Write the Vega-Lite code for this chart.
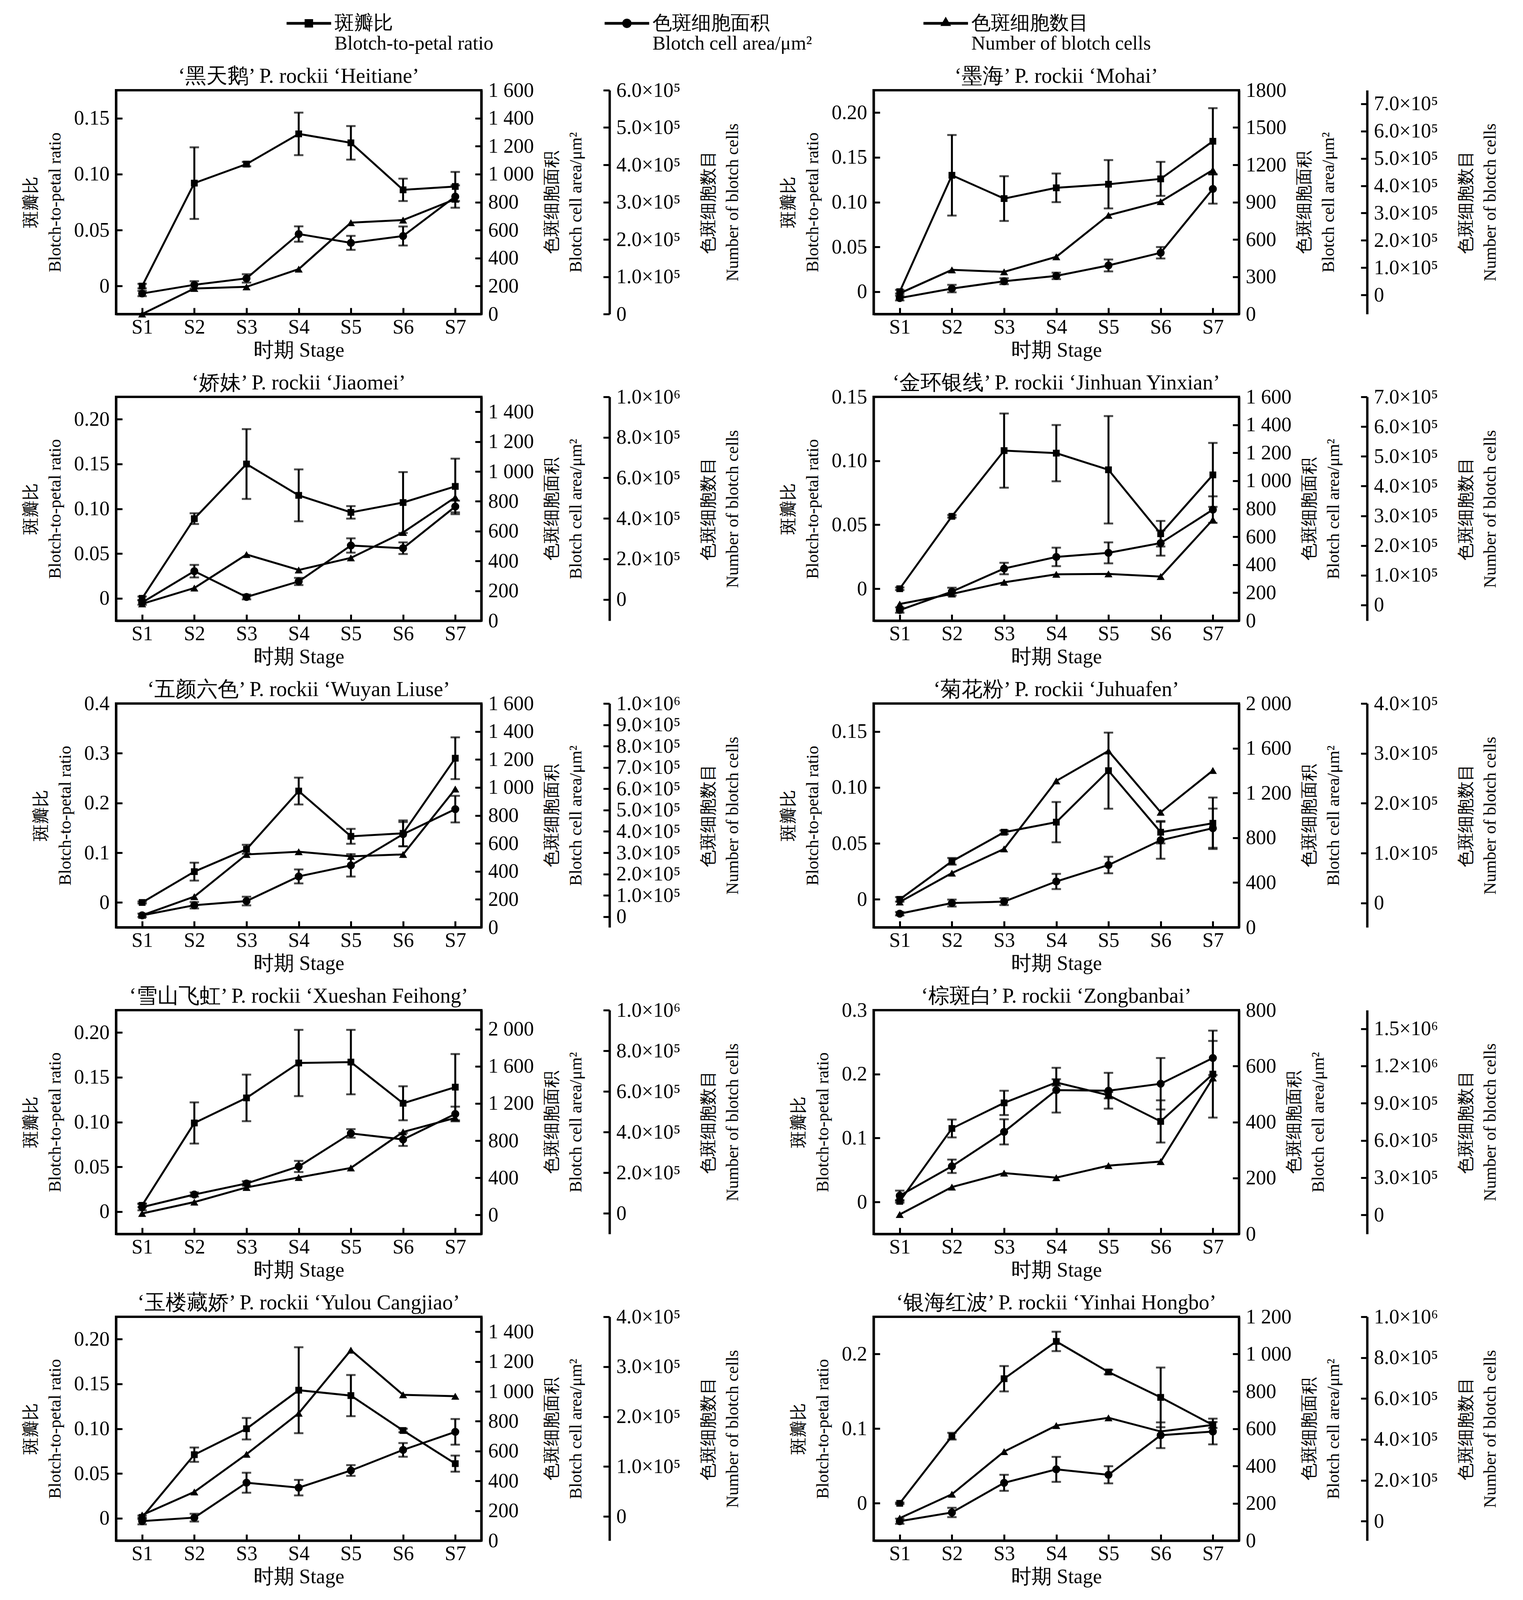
{
  "$schema": "https://vega.github.io/schema/vega-lite/v6.json",
  "description": "Blotch-to-petal ratio, blotch cell area and number of blotch cells of ten P. rockii cultivars over seven stages",
  "autosize": {"type": "pad"},
  "padding": {"left": 54, "top": 31, "right": 5, "bottom": 5},
  "data": {
    "values": [
      {"cultivar": "Heitiane", "stage": "S1", "ratio": 0.000, "ratio_se": 0.002, "area": 147, "area_se": 19, "count": 0},
      {"cultivar": "Heitiane", "stage": "S2", "ratio": 0.092, "ratio_se": 0.032, "area": 209, "area_se": 26, "count": 68600},
      {"cultivar": "Heitiane", "stage": "S3", "ratio": 0.109, "ratio_se": 0.002, "area": 255, "area_se": 30, "count": 73000},
      {"cultivar": "Heitiane", "stage": "S4", "ratio": 0.136, "ratio_se": 0.019, "area": 572, "area_se": 55, "count": 120500},
      {"cultivar": "Heitiane", "stage": "S5", "ratio": 0.128, "ratio_se": 0.015, "area": 509, "area_se": 50, "count": 245000},
      {"cultivar": "Heitiane", "stage": "S6", "ratio": 0.086, "ratio_se": 0.010, "area": 558, "area_se": 68, "count": 252000},
      {"cultivar": "Heitiane", "stage": "S7", "ratio": 0.089, "ratio_se": 0.013, "area": 840, "area_se": 80, "count": 308000},

      {"cultivar": "Mohai", "stage": "S1", "ratio": 0.000, "ratio_se": 0.002, "area": 129, "area_se": 19, "count": 6000},
      {"cultivar": "Mohai", "stage": "S2", "ratio": 0.130, "ratio_se": 0.045, "area": 205, "area_se": 30, "count": 91900},
      {"cultivar": "Mohai", "stage": "S3", "ratio": 0.104, "ratio_se": 0.025, "area": 264, "area_se": 24, "count": 84600},
      {"cultivar": "Mohai", "stage": "S4", "ratio": 0.116, "ratio_se": 0.016, "area": 307, "area_se": 26, "count": 139700},
      {"cultivar": "Mohai", "stage": "S5", "ratio": 0.120, "ratio_se": 0.027, "area": 391, "area_se": 48, "count": 291900},
      {"cultivar": "Mohai", "stage": "S6", "ratio": 0.126, "ratio_se": 0.019, "area": 493, "area_se": 46, "count": 341900},
      {"cultivar": "Mohai", "stage": "S7", "ratio": 0.168, "ratio_se": 0.037, "area": 1006, "area_se": 118, "count": 458000},

      {"cultivar": "Jiaomei", "stage": "S1", "ratio": 0.000, "ratio_se": 0.002, "area": 122, "area_se": 15, "count": -22000},
      {"cultivar": "Jiaomei", "stage": "S2", "ratio": 0.089, "ratio_se": 0.006, "area": 332, "area_se": 42, "count": 56400},
      {"cultivar": "Jiaomei", "stage": "S3", "ratio": 0.150, "ratio_se": 0.039, "area": 159, "area_se": 16, "count": 221800},
      {"cultivar": "Jiaomei", "stage": "S4", "ratio": 0.115, "ratio_se": 0.029, "area": 263, "area_se": 24, "count": 145500},
      {"cultivar": "Jiaomei", "stage": "S5", "ratio": 0.096, "ratio_se": 0.007, "area": 504, "area_se": 48, "count": 205000},
      {"cultivar": "Jiaomei", "stage": "S6", "ratio": 0.107, "ratio_se": 0.034, "area": 486, "area_se": 39, "count": 330700},
      {"cultivar": "Jiaomei", "stage": "S7", "ratio": 0.125, "ratio_se": 0.031, "area": 765, "area_se": 39, "count": 504000},

      {"cultivar": "Jinhuan", "stage": "S1", "ratio": 0.000, "ratio_se": 0.001, "area": 76, "area_se": 19, "count": 3400},
      {"cultivar": "Jinhuan", "stage": "S2", "ratio": 0.0566, "ratio_se": 0.001, "area": 208, "area_se": 28, "count": 37200},
      {"cultivar": "Jinhuan", "stage": "S3", "ratio": 0.108, "ratio_se": 0.029, "area": 373, "area_se": 41, "count": 76400},
      {"cultivar": "Jinhuan", "stage": "S4", "ratio": 0.106, "ratio_se": 0.022, "area": 456, "area_se": 66, "count": 103400},
      {"cultivar": "Jinhuan", "stage": "S5", "ratio": 0.093, "ratio_se": 0.042, "area": 485, "area_se": 75, "count": 104700},
      {"cultivar": "Jinhuan", "stage": "S6", "ratio": 0.043, "ratio_se": 0.010, "area": 555, "area_se": 90, "count": 95900},
      {"cultivar": "Jinhuan", "stage": "S7", "ratio": 0.089, "ratio_se": 0.025, "area": 794, "area_se": 95, "count": 287000},

      {"cultivar": "Wuyan", "stage": "S1", "ratio": 0.000, "ratio_se": 0.002, "area": 86, "area_se": 12, "count": 6600},
      {"cultivar": "Wuyan", "stage": "S2", "ratio": 0.062, "ratio_se": 0.018, "area": 158, "area_se": 23, "count": 94300},
      {"cultivar": "Wuyan", "stage": "S3", "ratio": 0.107, "ratio_se": 0.009, "area": 188, "area_se": 31, "count": 292000},
      {"cultivar": "Wuyan", "stage": "S4", "ratio": 0.224, "ratio_se": 0.027, "area": 364, "area_se": 50, "count": 304700},
      {"cultivar": "Wuyan", "stage": "S5", "ratio": 0.133, "ratio_se": 0.015, "area": 443, "area_se": 80, "count": 283000},
      {"cultivar": "Wuyan", "stage": "S6", "ratio": 0.139, "ratio_se": 0.026, "area": 666, "area_se": 87, "count": 292000},
      {"cultivar": "Wuyan", "stage": "S7", "ratio": 0.290, "ratio_se": 0.042, "area": 845, "area_se": 95, "count": 599000},

      {"cultivar": "Juhuafen", "stage": "S1", "ratio": 0.000, "ratio_se": 0.002, "area": 122, "area_se": 15, "count": 2000},
      {"cultivar": "Juhuafen", "stage": "S2", "ratio": 0.034, "ratio_se": 0.003, "area": 217, "area_se": 31, "count": 60000},
      {"cultivar": "Juhuafen", "stage": "S3", "ratio": 0.060, "ratio_se": 0.0016, "area": 230, "area_se": 31, "count": 108500},
      {"cultivar": "Juhuafen", "stage": "S4", "ratio": 0.069, "ratio_se": 0.018, "area": 410, "area_se": 68, "count": 244800},
      {"cultivar": "Juhuafen", "stage": "S5", "ratio": 0.115, "ratio_se": 0.034, "area": 557, "area_se": 74, "count": 305000},
      {"cultivar": "Juhuafen", "stage": "S6", "ratio": 0.060, "ratio_se": 0.010, "area": 778, "area_se": 165, "count": 182000},
      {"cultivar": "Juhuafen", "stage": "S7", "ratio": 0.068, "ratio_se": 0.023, "area": 886, "area_se": 175, "count": 265700},

      {"cultivar": "Xueshan", "stage": "S1", "ratio": 0.007, "ratio_se": 0.002, "area": 84, "area_se": 34, "count": 0},
      {"cultivar": "Xueshan", "stage": "S2", "ratio": 0.099, "ratio_se": 0.023, "area": 220, "area_se": 22, "count": 56000},
      {"cultivar": "Xueshan", "stage": "S3", "ratio": 0.127, "ratio_se": 0.026, "area": 339, "area_se": 24, "count": 128000},
      {"cultivar": "Xueshan", "stage": "S4", "ratio": 0.166, "ratio_se": 0.037, "area": 522, "area_se": 60, "count": 177000},
      {"cultivar": "Xueshan", "stage": "S5", "ratio": 0.167, "ratio_se": 0.036, "area": 878, "area_se": 46, "count": 224000},
      {"cultivar": "Xueshan", "stage": "S6", "ratio": 0.121, "ratio_se": 0.019, "area": 813, "area_se": 70, "count": 401000},
      {"cultivar": "Xueshan", "stage": "S7", "ratio": 0.139, "ratio_se": 0.037, "area": 1087, "area_se": 79, "count": 470000},

      {"cultivar": "Zongbanbai", "stage": "S1", "ratio": 0.001, "ratio_se": 0.002, "area": 137, "area_se": 18, "count": 3200},
      {"cultivar": "Zongbanbai", "stage": "S2", "ratio": 0.115, "ratio_se": 0.014, "area": 242, "area_se": 24, "count": 224000},
      {"cultivar": "Zongbanbai", "stage": "S3", "ratio": 0.155, "ratio_se": 0.019, "area": 365, "area_se": 45, "count": 337000},
      {"cultivar": "Zongbanbai", "stage": "S4", "ratio": 0.187, "ratio_se": 0.005, "area": 514, "area_se": 80, "count": 300000},
      {"cultivar": "Zongbanbai", "stage": "S5", "ratio": 0.167, "ratio_se": 0.005, "area": 512, "area_se": 64, "count": 397000},
      {"cultivar": "Zongbanbai", "stage": "S6", "ratio": 0.126, "ratio_se": 0.033, "area": 537, "area_se": 92, "count": 430000},
      {"cultivar": "Zongbanbai", "stage": "S7", "ratio": 0.200, "ratio_se": 0.068, "area": 629, "area_se": 61, "count": 1103000},

      {"cultivar": "Yulou", "stage": "S1", "ratio": 0.001, "ratio_se": 0.002, "area": 131, "area_se": 22, "count": 2900},
      {"cultivar": "Yulou", "stage": "S2", "ratio": 0.071, "ratio_se": 0.008, "area": 154, "area_se": 26, "count": 49200},
      {"cultivar": "Yulou", "stage": "S3", "ratio": 0.100, "ratio_se": 0.012, "area": 388, "area_se": 67, "count": 124700},
      {"cultivar": "Yulou", "stage": "S4", "ratio": 0.143, "ratio_se": 0.048, "area": 355, "area_se": 52, "count": 206800},
      {"cultivar": "Yulou", "stage": "S5", "ratio": 0.137, "ratio_se": 0.023, "area": 470, "area_se": 36, "count": 333200},
      {"cultivar": "Yulou", "stage": "S6", "ratio": 0.098, "ratio_se": 0.002, "area": 608, "area_se": 46, "count": 243700},
      {"cultivar": "Yulou", "stage": "S7", "ratio": 0.061, "ratio_se": 0.009, "area": 729, "area_se": 86, "count": 240900},

      {"cultivar": "Yinhai", "stage": "S1", "ratio": 0.000, "ratio_se": 0.001, "area": 104, "area_se": 14, "count": 15000},
      {"cultivar": "Yinhai", "stage": "S2", "ratio": 0.090, "ratio_se": 0.0045, "area": 151, "area_se": 25, "count": 132000},
      {"cultivar": "Yinhai", "stage": "S3", "ratio": 0.167, "ratio_se": 0.017, "area": 310, "area_se": 43, "count": 340700},
      {"cultivar": "Yinhai", "stage": "S4", "ratio": 0.217, "ratio_se": 0.013, "area": 382, "area_se": 67, "count": 468000},
      {"cultivar": "Yinhai", "stage": "S5", "ratio": 0.176, "ratio_se": 0.003, "area": 353, "area_se": 46, "count": 506000},
      {"cultivar": "Yinhai", "stage": "S6", "ratio": 0.142, "ratio_se": 0.040, "area": 565, "area_se": 69, "count": 439000},
      {"cultivar": "Yinhai", "stage": "S7", "ratio": 0.105, "ratio_se": 0.004, "area": 585, "area_se": 69, "count": 471000}
    ]
  },
  "columns": 2,
  "spacing": {"row": 212, "column": 1004},
  "bounds": "flush",
  "concat": [
    {
      "title": "‘黑天鹅’ P. rockii ‘Heitiane’",
      "width": 935, "height": 573,
      "transform": [{"filter": "datum.cultivar == 'Heitiane'"}],
      "encoding": {"x": {"field": "stage", "type": "ordinal", "scale": {"type": "point", "padding": 0.5}, "axis": {"title": "时期 Stage"}}},
      "layer": [
        {"encoding": {"y": {"field": "ratio", "type": "quantitative", "scale": {"domain": [-0.025, 0.175]}, "axis": {"orient": "left", "title": ["斑瓣比", "Blotch-to-petal ratio"], "values": [0, 0.05, 0.1, 0.15], "labelExpr": "datum.value == 0 ? '0' : format(datum.value, '.2f')"}}},
         "layer": [
          {"mark": {"type": "line", "color": "black", "strokeWidth": 5}},
          {"mark": {"type": "errorbar", "ticks": true, "size": 24, "thickness": 5, "color": "black"}, "encoding": {"yError": {"field": "ratio_se"}}},
          {"mark": {"type": "point", "shape": "square", "filled": true, "color": "black", "opacity": 1, "size": 300}},
          {"transform": [{"filter": "false"}],
           "mark": {"type": "point", "filled": true, "color": "black", "opacity": 1},
           "encoding": {"shape": {"datum": "ratio",
            "scale": {"domain": ["ratio", "area", "count"], "range": [
              "M-2,-0.12H2V0.12H-2Z M-0.38,-0.38H0.38V0.38H-0.38Z",
              "M-2,-0.12H2V0.12H-2Z M-0.42,0A0.42,0.42 0 1,1 0.42,0A0.42,0.42 0 1,1 -0.42,0Z",
              "M-2,-0.12H2V0.12H-2Z M0,-0.6L0.48,0.24H-0.48Z"]},
            "legend": {
              "orient": "none", "legendX": 465, "legendY": -200, "direction": "horizontal", "title": null,
              "labelExpr": "datum.value == 'ratio' ? ['斑瓣比', 'Blotch-to-petal ratio'] : datum.value == 'area' ? ['色斑细胞面积', 'Blotch cell area/μm²'] : ['色斑细胞数目', 'Number of blotch cells']",
              "labelFont": "Liberation Serif", "labelFontSize": 50, "labelColor": "black", "labelLimit": 0, "labelOffset": 37, "labelBaseline": "middle",
              "symbolSize": 3249, "symbolFillColor": "black", "symbolStrokeColor": "black", "symbolStrokeWidth": 0, "symbolOpacity": 1, "columnPadding": 284,
              "encode": {"labels": {"update": {"dy": {"value": 32}, "lineHeight": {"value": 44}}}}
            }}}}
         ]},
        {"encoding": {"y": {"field": "area", "type": "quantitative", "scale": {"domain": [0, 1600]}, "axis": {"orient": "right", "titlePadding": -38, "title": ["色斑细胞面积", "Blotch cell area/μm²"], "titleAngle": 270, "titleBaseline": "top", "values": [0, 200, 400, 600, 800, 1000, 1200, 1400, 1600], "labelExpr": "datum.value >= 1000 ? replace(format(datum.value, ','), ',', ' ') : format(datum.value, 'd')"}}},
         "layer": [
          {"mark": {"type": "line", "color": "black", "strokeWidth": 5}},
          {"mark": {"type": "errorbar", "ticks": true, "size": 24, "thickness": 5, "color": "black"}, "encoding": {"yError": {"field": "area_se"}}},
          {"mark": {"type": "point", "shape": "circle", "filled": true, "color": "black", "opacity": 1, "size": 420}}
         ]},
        {"encoding": {"y": {"field": "count", "type": "quantitative", "scale": {"domain": [0, 600000]}, "axis": {"orient": "right", "offset": 328, "titlePadding": -12, "title": ["色斑细胞数目", "Number of blotch cells"], "titleAngle": 270, "titleBaseline": "top", "values": [0, 100000, 200000, 300000, 400000, 500000, 600000], "labelExpr": "datum.value == 0 ? '0' : datum.value >= 1e6 ? format(datum.value / 1e6, '.1f') + '×10⁶' : format(datum.value / 1e5, '.1f') + '×10⁵'"}}},
         "layer": [
          {"mark": {"type": "line", "color": "black", "strokeWidth": 5}},
          {"mark": {"type": "point", "shape": "triangle-up", "filled": true, "color": "black", "opacity": 1, "size": 420}}
         ]}
      ],
      "resolve": {"scale": {"y": "independent"}}
    },
    {
      "title": "‘墨海’ P. rockii ‘Mohai’",
      "width": 935, "height": 573,
      "transform": [{"filter": "datum.cultivar == 'Mohai'"}],
      "encoding": {"x": {"field": "stage", "type": "ordinal", "scale": {"type": "point", "padding": 0.5}, "axis": {"title": "时期 Stage"}}},
      "layer": [
        {"encoding": {"y": {"field": "ratio", "type": "quantitative", "scale": {"domain": [-0.025, 0.225]}, "axis": {"orient": "left", "title": ["斑瓣比", "Blotch-to-petal ratio"], "values": [0, 0.05, 0.1, 0.15, 0.2], "labelExpr": "datum.value == 0 ? '0' : format(datum.value, '.2f')"}}},
         "layer": [
          {"mark": {"type": "line", "color": "black", "strokeWidth": 5}},
          {"mark": {"type": "errorbar", "ticks": true, "size": 24, "thickness": 5, "color": "black"}, "encoding": {"yError": {"field": "ratio_se"}}},
          {"mark": {"type": "point", "shape": "square", "filled": true, "color": "black", "opacity": 1, "size": 300}}
         ]},
        {"encoding": {"y": {"field": "area", "type": "quantitative", "scale": {"domain": [0, 1800]}, "axis": {"orient": "right", "titlePadding": -38, "title": ["色斑细胞面积", "Blotch cell area/μm²"], "titleAngle": 270, "titleBaseline": "top", "values": [0, 300, 600, 900, 1200, 1500, 1800], "labelExpr": "format(datum.value, 'd')"}}},
         "layer": [
          {"mark": {"type": "line", "color": "black", "strokeWidth": 5}},
          {"mark": {"type": "errorbar", "ticks": true, "size": 24, "thickness": 5, "color": "black"}, "encoding": {"yError": {"field": "area_se"}}},
          {"mark": {"type": "point", "shape": "circle", "filled": true, "color": "black", "opacity": 1, "size": 420}}
         ]},
        {"encoding": {"y": {"field": "count", "type": "quantitative", "scale": {"domain": [-70000, 750000]}, "axis": {"orient": "right", "offset": 328, "titlePadding": -12, "title": ["色斑细胞数目", "Number of blotch cells"], "titleAngle": 270, "titleBaseline": "top", "values": [0, 100000, 200000, 300000, 400000, 500000, 600000, 700000], "labelExpr": "datum.value == 0 ? '0' : datum.value >= 1e6 ? format(datum.value / 1e6, '.1f') + '×10⁶' : format(datum.value / 1e5, '.1f') + '×10⁵'"}}},
         "layer": [
          {"mark": {"type": "line", "color": "black", "strokeWidth": 5}},
          {"mark": {"type": "point", "shape": "triangle-up", "filled": true, "color": "black", "opacity": 1, "size": 420}}
         ]}
      ],
      "resolve": {"scale": {"y": "independent"}}
    },
    {
      "title": "‘娇妹’ P. rockii ‘Jiaomei’",
      "width": 935, "height": 573,
      "transform": [{"filter": "datum.cultivar == 'Jiaomei'"}],
      "encoding": {"x": {"field": "stage", "type": "ordinal", "scale": {"type": "point", "padding": 0.5}, "axis": {"title": "时期 Stage"}}},
      "layer": [
        {"encoding": {"y": {"field": "ratio", "type": "quantitative", "scale": {"domain": [-0.025, 0.225]}, "axis": {"orient": "left", "title": ["斑瓣比", "Blotch-to-petal ratio"], "values": [0, 0.05, 0.1, 0.15, 0.2], "labelExpr": "datum.value == 0 ? '0' : format(datum.value, '.2f')"}}},
         "layer": [
          {"mark": {"type": "line", "color": "black", "strokeWidth": 5}},
          {"mark": {"type": "errorbar", "ticks": true, "size": 24, "thickness": 5, "color": "black"}, "encoding": {"yError": {"field": "ratio_se"}}},
          {"mark": {"type": "point", "shape": "square", "filled": true, "color": "black", "opacity": 1, "size": 300}}
         ]},
        {"encoding": {"y": {"field": "area", "type": "quantitative", "scale": {"domain": [0, 1500]}, "axis": {"orient": "right", "titlePadding": -38, "title": ["色斑细胞面积", "Blotch cell area/μm²"], "titleAngle": 270, "titleBaseline": "top", "values": [0, 200, 400, 600, 800, 1000, 1200, 1400], "labelExpr": "datum.value >= 1000 ? replace(format(datum.value, ','), ',', ' ') : format(datum.value, 'd')"}}},
         "layer": [
          {"mark": {"type": "line", "color": "black", "strokeWidth": 5}},
          {"mark": {"type": "errorbar", "ticks": true, "size": 24, "thickness": 5, "color": "black"}, "encoding": {"yError": {"field": "area_se"}}},
          {"mark": {"type": "point", "shape": "circle", "filled": true, "color": "black", "opacity": 1, "size": 420}}
         ]},
        {"encoding": {"y": {"field": "count", "type": "quantitative", "scale": {"domain": [-105000, 1000000]}, "axis": {"orient": "right", "offset": 328, "titlePadding": -12, "title": ["色斑细胞数目", "Number of blotch cells"], "titleAngle": 270, "titleBaseline": "top", "values": [0, 200000, 400000, 600000, 800000, 1000000], "labelExpr": "datum.value == 0 ? '0' : datum.value >= 1e6 ? format(datum.value / 1e6, '.1f') + '×10⁶' : format(datum.value / 1e5, '.1f') + '×10⁵'"}}},
         "layer": [
          {"mark": {"type": "line", "color": "black", "strokeWidth": 5}},
          {"mark": {"type": "point", "shape": "triangle-up", "filled": true, "color": "black", "opacity": 1, "size": 420}}
         ]}
      ],
      "resolve": {"scale": {"y": "independent"}}
    },
    {
      "title": "‘金环银线’ P. rockii ‘Jinhuan Yinxian’",
      "width": 935, "height": 573,
      "transform": [{"filter": "datum.cultivar == 'Jinhuan'"}],
      "encoding": {"x": {"field": "stage", "type": "ordinal", "scale": {"type": "point", "padding": 0.5}, "axis": {"title": "时期 Stage"}}},
      "layer": [
        {"encoding": {"y": {"field": "ratio", "type": "quantitative", "scale": {"domain": [-0.025, 0.15]}, "axis": {"orient": "left", "title": ["斑瓣比", "Blotch-to-petal ratio"], "values": [0, 0.05, 0.1, 0.15], "labelExpr": "datum.value == 0 ? '0' : format(datum.value, '.2f')"}}},
         "layer": [
          {"mark": {"type": "line", "color": "black", "strokeWidth": 5}},
          {"mark": {"type": "errorbar", "ticks": true, "size": 24, "thickness": 5, "color": "black"}, "encoding": {"yError": {"field": "ratio_se"}}},
          {"mark": {"type": "point", "shape": "square", "filled": true, "color": "black", "opacity": 1, "size": 300}}
         ]},
        {"encoding": {"y": {"field": "area", "type": "quantitative", "scale": {"domain": [0, 1600]}, "axis": {"orient": "right", "titlePadding": -38, "title": ["色斑细胞面积", "Blotch cell area/μm²"], "titleAngle": 270, "titleBaseline": "top", "values": [0, 200, 400, 600, 800, 1000, 1200, 1400, 1600], "labelExpr": "datum.value >= 1000 ? replace(format(datum.value, ','), ',', ' ') : format(datum.value, 'd')"}}},
         "layer": [
          {"mark": {"type": "line", "color": "black", "strokeWidth": 5}},
          {"mark": {"type": "errorbar", "ticks": true, "size": 24, "thickness": 5, "color": "black"}, "encoding": {"yError": {"field": "area_se"}}},
          {"mark": {"type": "point", "shape": "circle", "filled": true, "color": "black", "opacity": 1, "size": 420}}
         ]},
        {"encoding": {"y": {"field": "count", "type": "quantitative", "scale": {"domain": [-52700, 700000]}, "axis": {"orient": "right", "offset": 328, "titlePadding": -12, "title": ["色斑细胞数目", "Number of blotch cells"], "titleAngle": 270, "titleBaseline": "top", "values": [0, 100000, 200000, 300000, 400000, 500000, 600000, 700000], "labelExpr": "datum.value == 0 ? '0' : datum.value >= 1e6 ? format(datum.value / 1e6, '.1f') + '×10⁶' : format(datum.value / 1e5, '.1f') + '×10⁵'"}}},
         "layer": [
          {"mark": {"type": "line", "color": "black", "strokeWidth": 5}},
          {"mark": {"type": "point", "shape": "triangle-up", "filled": true, "color": "black", "opacity": 1, "size": 420}}
         ]}
      ],
      "resolve": {"scale": {"y": "independent"}}
    },
    {
      "title": "‘五颜六色’ P. rockii ‘Wuyan Liuse’",
      "width": 935, "height": 573,
      "transform": [{"filter": "datum.cultivar == 'Wuyan'"}],
      "encoding": {"x": {"field": "stage", "type": "ordinal", "scale": {"type": "point", "padding": 0.5}, "axis": {"title": "时期 Stage"}}},
      "layer": [
        {"encoding": {"y": {"field": "ratio", "type": "quantitative", "scale": {"domain": [-0.05, 0.4]}, "axis": {"orient": "left", "title": ["斑瓣比", "Blotch-to-petal ratio"], "values": [0, 0.1, 0.2, 0.3, 0.4], "labelExpr": "datum.value == 0 ? '0' : format(datum.value, '.1f')"}}},
         "layer": [
          {"mark": {"type": "line", "color": "black", "strokeWidth": 5}},
          {"mark": {"type": "errorbar", "ticks": true, "size": 24, "thickness": 5, "color": "black"}, "encoding": {"yError": {"field": "ratio_se"}}},
          {"mark": {"type": "point", "shape": "square", "filled": true, "color": "black", "opacity": 1, "size": 300}}
         ]},
        {"encoding": {"y": {"field": "area", "type": "quantitative", "scale": {"domain": [0, 1600]}, "axis": {"orient": "right", "titlePadding": -38, "title": ["色斑细胞面积", "Blotch cell area/μm²"], "titleAngle": 270, "titleBaseline": "top", "values": [0, 200, 400, 600, 800, 1000, 1200, 1400, 1600], "labelExpr": "datum.value >= 1000 ? replace(format(datum.value, ','), ',', ' ') : format(datum.value, 'd')"}}},
         "layer": [
          {"mark": {"type": "line", "color": "black", "strokeWidth": 5}},
          {"mark": {"type": "errorbar", "ticks": true, "size": 24, "thickness": 5, "color": "black"}, "encoding": {"yError": {"field": "area_se"}}},
          {"mark": {"type": "point", "shape": "circle", "filled": true, "color": "black", "opacity": 1, "size": 420}}
         ]},
        {"encoding": {"y": {"field": "count", "type": "quantitative", "scale": {"domain": [-50000, 1000000]}, "axis": {"orient": "right", "offset": 328, "titlePadding": -12, "title": ["色斑细胞数目", "Number of blotch cells"], "titleAngle": 270, "titleBaseline": "top", "values": [0, 100000, 200000, 300000, 400000, 500000, 600000, 700000, 800000, 900000, 1000000], "labelExpr": "datum.value == 0 ? '0' : datum.value >= 1e6 ? format(datum.value / 1e6, '.1f') + '×10⁶' : format(datum.value / 1e5, '.1f') + '×10⁵'"}}},
         "layer": [
          {"mark": {"type": "line", "color": "black", "strokeWidth": 5}},
          {"mark": {"type": "point", "shape": "triangle-up", "filled": true, "color": "black", "opacity": 1, "size": 420}}
         ]}
      ],
      "resolve": {"scale": {"y": "independent"}}
    },
    {
      "title": "‘菊花粉’ P. rockii ‘Juhuafen’",
      "width": 935, "height": 573,
      "transform": [{"filter": "datum.cultivar == 'Juhuafen'"}],
      "encoding": {"x": {"field": "stage", "type": "ordinal", "scale": {"type": "point", "padding": 0.5}, "axis": {"title": "时期 Stage"}}},
      "layer": [
        {"encoding": {"y": {"field": "ratio", "type": "quantitative", "scale": {"domain": [-0.025, 0.175]}, "axis": {"orient": "left", "title": ["斑瓣比", "Blotch-to-petal ratio"], "values": [0, 0.05, 0.1, 0.15], "labelExpr": "datum.value == 0 ? '0' : format(datum.value, '.2f')"}}},
         "layer": [
          {"mark": {"type": "line", "color": "black", "strokeWidth": 5}},
          {"mark": {"type": "errorbar", "ticks": true, "size": 24, "thickness": 5, "color": "black"}, "encoding": {"yError": {"field": "ratio_se"}}},
          {"mark": {"type": "point", "shape": "square", "filled": true, "color": "black", "opacity": 1, "size": 300}}
         ]},
        {"encoding": {"y": {"field": "area", "type": "quantitative", "scale": {"domain": [0, 2000]}, "axis": {"orient": "right", "titlePadding": -38, "title": ["色斑细胞面积", "Blotch cell area/μm²"], "titleAngle": 270, "titleBaseline": "top", "values": [0, 400, 800, 1200, 1600, 2000], "labelExpr": "datum.value >= 1000 ? replace(format(datum.value, ','), ',', ' ') : format(datum.value, 'd')"}}},
         "layer": [
          {"mark": {"type": "line", "color": "black", "strokeWidth": 5}},
          {"mark": {"type": "errorbar", "ticks": true, "size": 24, "thickness": 5, "color": "black"}, "encoding": {"yError": {"field": "area_se"}}},
          {"mark": {"type": "point", "shape": "circle", "filled": true, "color": "black", "opacity": 1, "size": 420}}
         ]},
        {"encoding": {"y": {"field": "count", "type": "quantitative", "scale": {"domain": [-48800, 400000]}, "axis": {"orient": "right", "offset": 328, "titlePadding": -12, "title": ["色斑细胞数目", "Number of blotch cells"], "titleAngle": 270, "titleBaseline": "top", "values": [0, 100000, 200000, 300000, 400000], "labelExpr": "datum.value == 0 ? '0' : datum.value >= 1e6 ? format(datum.value / 1e6, '.1f') + '×10⁶' : format(datum.value / 1e5, '.1f') + '×10⁵'"}}},
         "layer": [
          {"mark": {"type": "line", "color": "black", "strokeWidth": 5}},
          {"mark": {"type": "point", "shape": "triangle-up", "filled": true, "color": "black", "opacity": 1, "size": 420}}
         ]}
      ],
      "resolve": {"scale": {"y": "independent"}}
    },
    {
      "title": "‘雪山飞虹’ P. rockii ‘Xueshan Feihong’",
      "width": 935, "height": 573,
      "transform": [{"filter": "datum.cultivar == 'Xueshan'"}],
      "encoding": {"x": {"field": "stage", "type": "ordinal", "scale": {"type": "point", "padding": 0.5}, "axis": {"title": "时期 Stage"}}},
      "layer": [
        {"encoding": {"y": {"field": "ratio", "type": "quantitative", "scale": {"domain": [-0.025, 0.225]}, "axis": {"orient": "left", "title": ["斑瓣比", "Blotch-to-petal ratio"], "values": [0, 0.05, 0.1, 0.15, 0.2], "labelExpr": "datum.value == 0 ? '0' : format(datum.value, '.2f')"}}},
         "layer": [
          {"mark": {"type": "line", "color": "black", "strokeWidth": 5}},
          {"mark": {"type": "errorbar", "ticks": true, "size": 24, "thickness": 5, "color": "black"}, "encoding": {"yError": {"field": "ratio_se"}}},
          {"mark": {"type": "point", "shape": "square", "filled": true, "color": "black", "opacity": 1, "size": 300}}
         ]},
        {"encoding": {"y": {"field": "area", "type": "quantitative", "scale": {"domain": [-205, 2205]}, "axis": {"orient": "right", "titlePadding": -38, "title": ["色斑细胞面积", "Blotch cell area/μm²"], "titleAngle": 270, "titleBaseline": "top", "values": [0, 400, 800, 1200, 1600, 2000], "labelExpr": "datum.value >= 1000 ? replace(format(datum.value, ','), ',', ' ') : format(datum.value, 'd')"}}},
         "layer": [
          {"mark": {"type": "line", "color": "black", "strokeWidth": 5}},
          {"mark": {"type": "errorbar", "ticks": true, "size": 24, "thickness": 5, "color": "black"}, "encoding": {"yError": {"field": "area_se"}}},
          {"mark": {"type": "point", "shape": "circle", "filled": true, "color": "black", "opacity": 1, "size": 420}}
         ]},
        {"encoding": {"y": {"field": "count", "type": "quantitative", "scale": {"domain": [-101000, 1000000]}, "axis": {"orient": "right", "offset": 328, "titlePadding": -12, "title": ["色斑细胞数目", "Number of blotch cells"], "titleAngle": 270, "titleBaseline": "top", "values": [0, 200000, 400000, 600000, 800000, 1000000], "labelExpr": "datum.value == 0 ? '0' : datum.value >= 1e6 ? format(datum.value / 1e6, '.1f') + '×10⁶' : format(datum.value / 1e5, '.1f') + '×10⁵'"}}},
         "layer": [
          {"mark": {"type": "line", "color": "black", "strokeWidth": 5}},
          {"mark": {"type": "point", "shape": "triangle-up", "filled": true, "color": "black", "opacity": 1, "size": 420}}
         ]}
      ],
      "resolve": {"scale": {"y": "independent"}}
    },
    {
      "title": "‘棕斑白’ P. rockii ‘Zongbanbai’",
      "width": 935, "height": 573,
      "transform": [{"filter": "datum.cultivar == 'Zongbanbai'"}],
      "encoding": {"x": {"field": "stage", "type": "ordinal", "scale": {"type": "point", "padding": 0.5}, "axis": {"title": "时期 Stage"}}},
      "layer": [
        {"encoding": {"y": {"field": "ratio", "type": "quantitative", "scale": {"domain": [-0.05, 0.3]}, "axis": {"orient": "left", "title": ["斑瓣比", "Blotch-to-petal ratio"], "values": [0, 0.1, 0.2, 0.3], "labelExpr": "datum.value == 0 ? '0' : format(datum.value, '.1f')"}}},
         "layer": [
          {"mark": {"type": "line", "color": "black", "strokeWidth": 5}},
          {"mark": {"type": "errorbar", "ticks": true, "size": 24, "thickness": 5, "color": "black"}, "encoding": {"yError": {"field": "ratio_se"}}},
          {"mark": {"type": "point", "shape": "square", "filled": true, "color": "black", "opacity": 1, "size": 300}}
         ]},
        {"encoding": {"y": {"field": "area", "type": "quantitative", "scale": {"domain": [0, 800]}, "axis": {"orient": "right", "titlePadding": -38, "title": ["色斑细胞面积", "Blotch cell area/μm²"], "titleAngle": 270, "titleBaseline": "top", "values": [0, 200, 400, 600, 800], "labelExpr": "format(datum.value, 'd')"}}},
         "layer": [
          {"mark": {"type": "line", "color": "black", "strokeWidth": 5}},
          {"mark": {"type": "errorbar", "ticks": true, "size": 24, "thickness": 5, "color": "black"}, "encoding": {"yError": {"field": "area_se"}}},
          {"mark": {"type": "point", "shape": "circle", "filled": true, "color": "black", "opacity": 1, "size": 420}}
         ]},
        {"encoding": {"y": {"field": "count", "type": "quantitative", "scale": {"domain": [-154000, 1650000]}, "axis": {"orient": "right", "offset": 328, "titlePadding": -12, "title": ["色斑细胞数目", "Number of blotch cells"], "titleAngle": 270, "titleBaseline": "top", "values": [0, 300000, 600000, 900000, 1200000, 1500000], "labelExpr": "datum.value == 0 ? '0' : datum.value >= 1e6 ? format(datum.value / 1e6, '.1f') + '×10⁶' : format(datum.value / 1e5, '.1f') + '×10⁵'"}}},
         "layer": [
          {"mark": {"type": "line", "color": "black", "strokeWidth": 5}},
          {"mark": {"type": "point", "shape": "triangle-up", "filled": true, "color": "black", "opacity": 1, "size": 420}}
         ]}
      ],
      "resolve": {"scale": {"y": "independent"}}
    },
    {
      "title": "‘玉楼藏娇’ P. rockii ‘Yulou Cangjiao’",
      "width": 935, "height": 573,
      "transform": [{"filter": "datum.cultivar == 'Yulou'"}],
      "encoding": {"x": {"field": "stage", "type": "ordinal", "scale": {"type": "point", "padding": 0.5}, "axis": {"title": "时期 Stage"}}},
      "layer": [
        {"encoding": {"y": {"field": "ratio", "type": "quantitative", "scale": {"domain": [-0.025, 0.225]}, "axis": {"orient": "left", "title": ["斑瓣比", "Blotch-to-petal ratio"], "values": [0, 0.05, 0.1, 0.15, 0.2], "labelExpr": "datum.value == 0 ? '0' : format(datum.value, '.2f')"}}},
         "layer": [
          {"mark": {"type": "line", "color": "black", "strokeWidth": 5}},
          {"mark": {"type": "errorbar", "ticks": true, "size": 24, "thickness": 5, "color": "black"}, "encoding": {"yError": {"field": "ratio_se"}}},
          {"mark": {"type": "point", "shape": "square", "filled": true, "color": "black", "opacity": 1, "size": 300}}
         ]},
        {"encoding": {"y": {"field": "area", "type": "quantitative", "scale": {"domain": [0, 1500]}, "axis": {"orient": "right", "titlePadding": -38, "title": ["色斑细胞面积", "Blotch cell area/μm²"], "titleAngle": 270, "titleBaseline": "top", "values": [0, 200, 400, 600, 800, 1000, 1200, 1400], "labelExpr": "datum.value >= 1000 ? replace(format(datum.value, ','), ',', ' ') : format(datum.value, 'd')"}}},
         "layer": [
          {"mark": {"type": "line", "color": "black", "strokeWidth": 5}},
          {"mark": {"type": "errorbar", "ticks": true, "size": 24, "thickness": 5, "color": "black"}, "encoding": {"yError": {"field": "area_se"}}},
          {"mark": {"type": "point", "shape": "circle", "filled": true, "color": "black", "opacity": 1, "size": 420}}
         ]},
        {"encoding": {"y": {"field": "count", "type": "quantitative", "scale": {"domain": [-48400, 400000]}, "axis": {"orient": "right", "offset": 328, "titlePadding": -12, "title": ["色斑细胞数目", "Number of blotch cells"], "titleAngle": 270, "titleBaseline": "top", "values": [0, 100000, 200000, 300000, 400000], "labelExpr": "datum.value == 0 ? '0' : datum.value >= 1e6 ? format(datum.value / 1e6, '.1f') + '×10⁶' : format(datum.value / 1e5, '.1f') + '×10⁵'"}}},
         "layer": [
          {"mark": {"type": "line", "color": "black", "strokeWidth": 5}},
          {"mark": {"type": "point", "shape": "triangle-up", "filled": true, "color": "black", "opacity": 1, "size": 420}}
         ]}
      ],
      "resolve": {"scale": {"y": "independent"}}
    },
    {
      "title": "‘银海红波’ P. rockii ‘Yinhai Hongbo’",
      "width": 935, "height": 573,
      "transform": [{"filter": "datum.cultivar == 'Yinhai'"}],
      "encoding": {"x": {"field": "stage", "type": "ordinal", "scale": {"type": "point", "padding": 0.5}, "axis": {"title": "时期 Stage"}}},
      "layer": [
        {"encoding": {"y": {"field": "ratio", "type": "quantitative", "scale": {"domain": [-0.05, 0.25]}, "axis": {"orient": "left", "title": ["斑瓣比", "Blotch-to-petal ratio"], "values": [0, 0.1, 0.2], "labelExpr": "datum.value == 0 ? '0' : format(datum.value, '.1f')"}}},
         "layer": [
          {"mark": {"type": "line", "color": "black", "strokeWidth": 5}},
          {"mark": {"type": "errorbar", "ticks": true, "size": 24, "thickness": 5, "color": "black"}, "encoding": {"yError": {"field": "ratio_se"}}},
          {"mark": {"type": "point", "shape": "square", "filled": true, "color": "black", "opacity": 1, "size": 300}}
         ]},
        {"encoding": {"y": {"field": "area", "type": "quantitative", "scale": {"domain": [0, 1200]}, "axis": {"orient": "right", "titlePadding": -38, "title": ["色斑细胞面积", "Blotch cell area/μm²"], "titleAngle": 270, "titleBaseline": "top", "values": [0, 200, 400, 600, 800, 1000, 1200], "labelExpr": "datum.value >= 1000 ? replace(format(datum.value, ','), ',', ' ') : format(datum.value, 'd')"}}},
         "layer": [
          {"mark": {"type": "line", "color": "black", "strokeWidth": 5}},
          {"mark": {"type": "errorbar", "ticks": true, "size": 24, "thickness": 5, "color": "black"}, "encoding": {"yError": {"field": "area_se"}}},
          {"mark": {"type": "point", "shape": "circle", "filled": true, "color": "black", "opacity": 1, "size": 420}}
         ]},
        {"encoding": {"y": {"field": "count", "type": "quantitative", "scale": {"domain": [-95000, 1000000]}, "axis": {"orient": "right", "offset": 328, "titlePadding": -12, "title": ["色斑细胞数目", "Number of blotch cells"], "titleAngle": 270, "titleBaseline": "top", "values": [0, 200000, 400000, 600000, 800000, 1000000], "labelExpr": "datum.value == 0 ? '0' : datum.value >= 1e6 ? format(datum.value / 1e6, '.1f') + '×10⁶' : format(datum.value / 1e5, '.1f') + '×10⁵'"}}},
         "layer": [
          {"mark": {"type": "line", "color": "black", "strokeWidth": 5}},
          {"mark": {"type": "point", "shape": "triangle-up", "filled": true, "color": "black", "opacity": 1, "size": 420}}
         ]}
      ],
      "resolve": {"scale": {"y": "independent"}}
    }
  ],
  "config": {
    "font": "Liberation Serif",
    "background": "white",
    "view": {"stroke": "black", "strokeWidth": 6},
    "axis": {
      "grid": false, "domainColor": "black", "domainWidth": 6, "tickColor": "black", "tickWidth": 5, "tickSize": -16,
      "labelPadding": 33, "labelFont": "Liberation Serif", "labelFontSize": 52, "labelColor": "black",
      "titleFont": "Liberation Serif", "titleFontSize": 44, "titleFontWeight": "normal", "titleColor": "black", "titleLineHeight": 62, "titlePadding": 14
    },
    "axisLeft": {"titlePadding": 26},
    "axisX": {"labelPadding": 24, "labelAngle": 0, "titleFontSize": 52, "titlePadding": 8},
    "title": {"font": "Liberation Serif", "fontSize": 54, "fontWeight": "normal", "offset": 30, "dy": 48, "anchor": "middle", "color": "black"}
  }
}
